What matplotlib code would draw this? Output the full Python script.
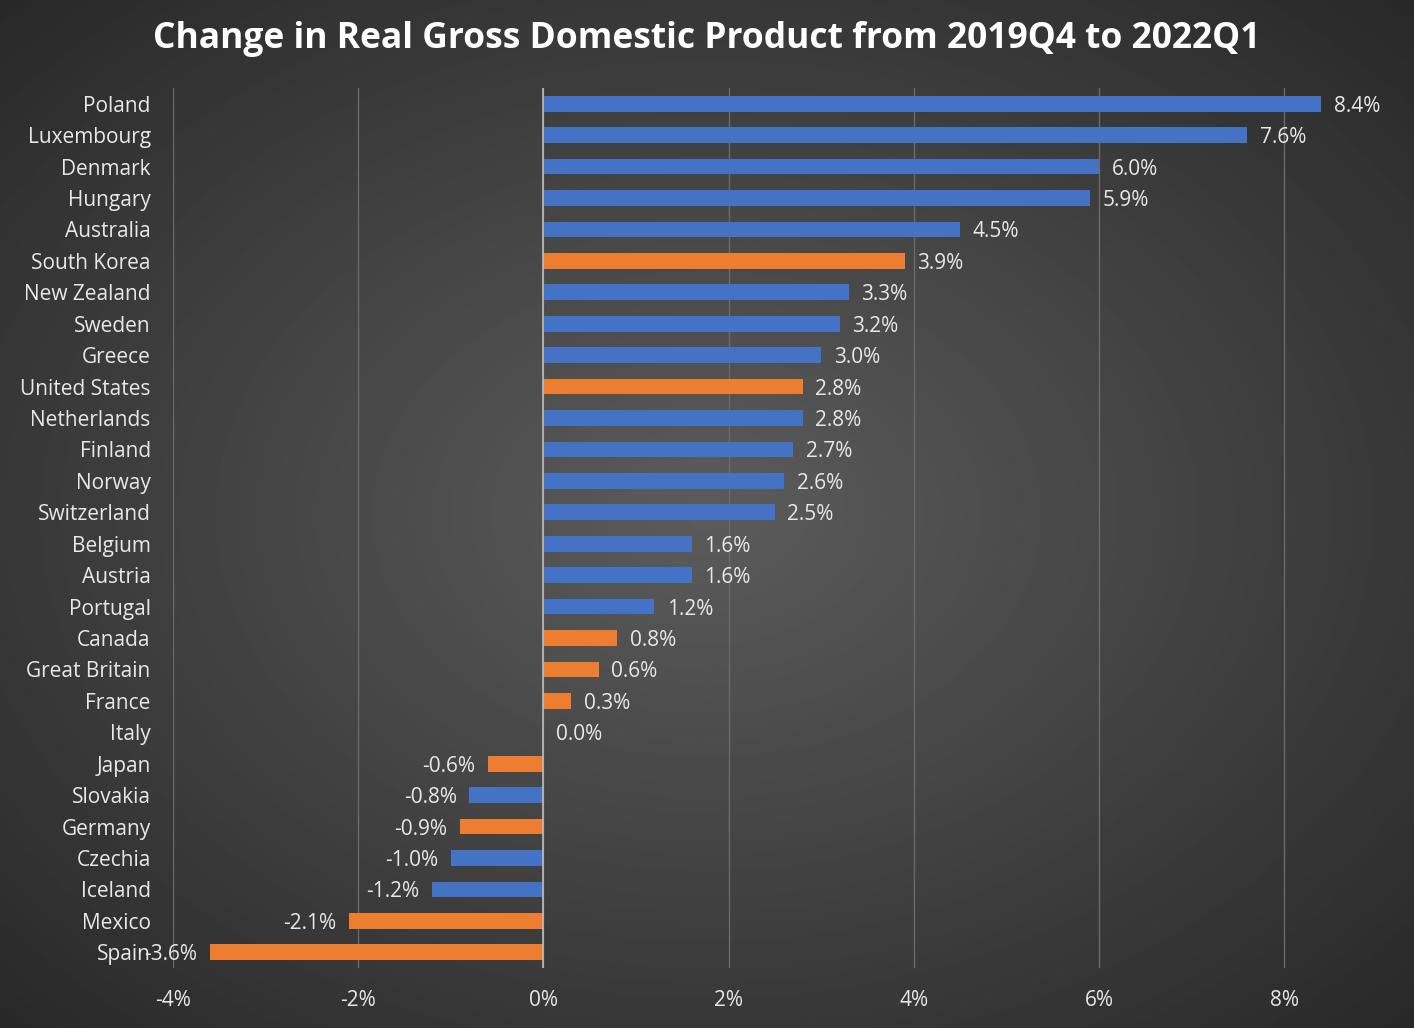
import matplotlib.pyplot as plt
import numpy as np

countries = ["Poland", "Luxembourg", "Denmark", "Hungary", "Australia", "South Korea",
             "New Zealand", "Sweden", "Greece", "United States", "Netherlands", "Finland",
             "Norway", "Switzerland", "Belgium", "Austria", "Portugal", "Canada",
             "Great Britain", "France", "Italy", "Japan", "Slovakia", "Germany",
             "Czechia", "Iceland", "Mexico", "Spain"]
values = [8.4, 7.6, 6.0, 5.9, 4.5, 3.9, 3.3, 3.2, 3.0, 2.8, 2.8, 2.7, 2.6, 2.5,
          1.6, 1.6, 1.2, 0.8, 0.6, 0.3, 0.0, -0.6, -0.8, -0.9, -1.0, -1.2, -2.1, -3.6]
highlight = ["South Korea", "United States", "Canada", "Great Britain", "France",
             "Italy", "Japan", "Germany", "Mexico", "Spain"]

plt.rcParams['font.family'] = ['Open Sans', 'DejaVu Sans']
blue, orange, txt = '#4472C4', '#ED7D31', '#E8E8E8'

fig = plt.figure(figsize=(14.14, 10.28), dpi=100)

# radial gradient background
bg = fig.add_axes([0, 0, 1, 1])
yy, xx = np.mgrid[-1:1:400j, -1:1:560j]
r = np.sqrt(xx**2 + yy**2) / np.sqrt(2)
bg.imshow(0.36 - 0.2 * r, cmap='gray', vmin=0, vmax=1, aspect='auto', extent=[0, 1, 0, 1])
bg.axis('off')

ax = fig.add_axes([0.1223, 0.0584, 0.8678, 0.856])
ax.patch.set_alpha(0)
y = np.arange(len(countries))
colors = [orange if c in highlight else blue for c in countries]
ax.barh(y, values, height=0.5, color=colors, zorder=3)
ax.set_ylim(len(countries) - 0.5, -0.5)
ax.set_xlim(-4, 9.25)
ax.set_xticks([-4, -2, 0, 2, 4, 6, 8])
ax.set_xticklabels([f"{t}%" for t in [-4, -2, 0, 2, 4, 6, 8]])
ax.set_yticks(y)
ax.set_yticklabels(countries)
ax.tick_params(colors=txt, labelsize=15, length=0, pad=16)
ax.tick_params(axis='y', pad=16)
ax.grid(axis='x', color='#6a6a6a', lw=1, zorder=0)
ax.axvline(0, color='#bdbdbd', lw=1.2, zorder=4)
for s in ax.spines.values():
    s.set_visible(False)

for yi, v in zip(y, values):
    if v >= 0:
        ax.annotate(f"{v:.1f}%", (v, yi), xytext=(9, 0), textcoords='offset points',
                    va='center_baseline', ha='left', color=txt, fontsize=15)
    else:
        ax.annotate(f"{v:.1f}%", (v, yi), xytext=(-9, 0), textcoords='offset points',
                    va='center_baseline', ha='right', color=txt, fontsize=15)

fig.text(0.5, 0.962, "Change in Real Gross Domestic Product from 2019Q4 to 2022Q1",
         ha='center', va='center', color='white', fontsize=25.5, fontweight='bold')

fig.savefig("out.png", dpi=100)
